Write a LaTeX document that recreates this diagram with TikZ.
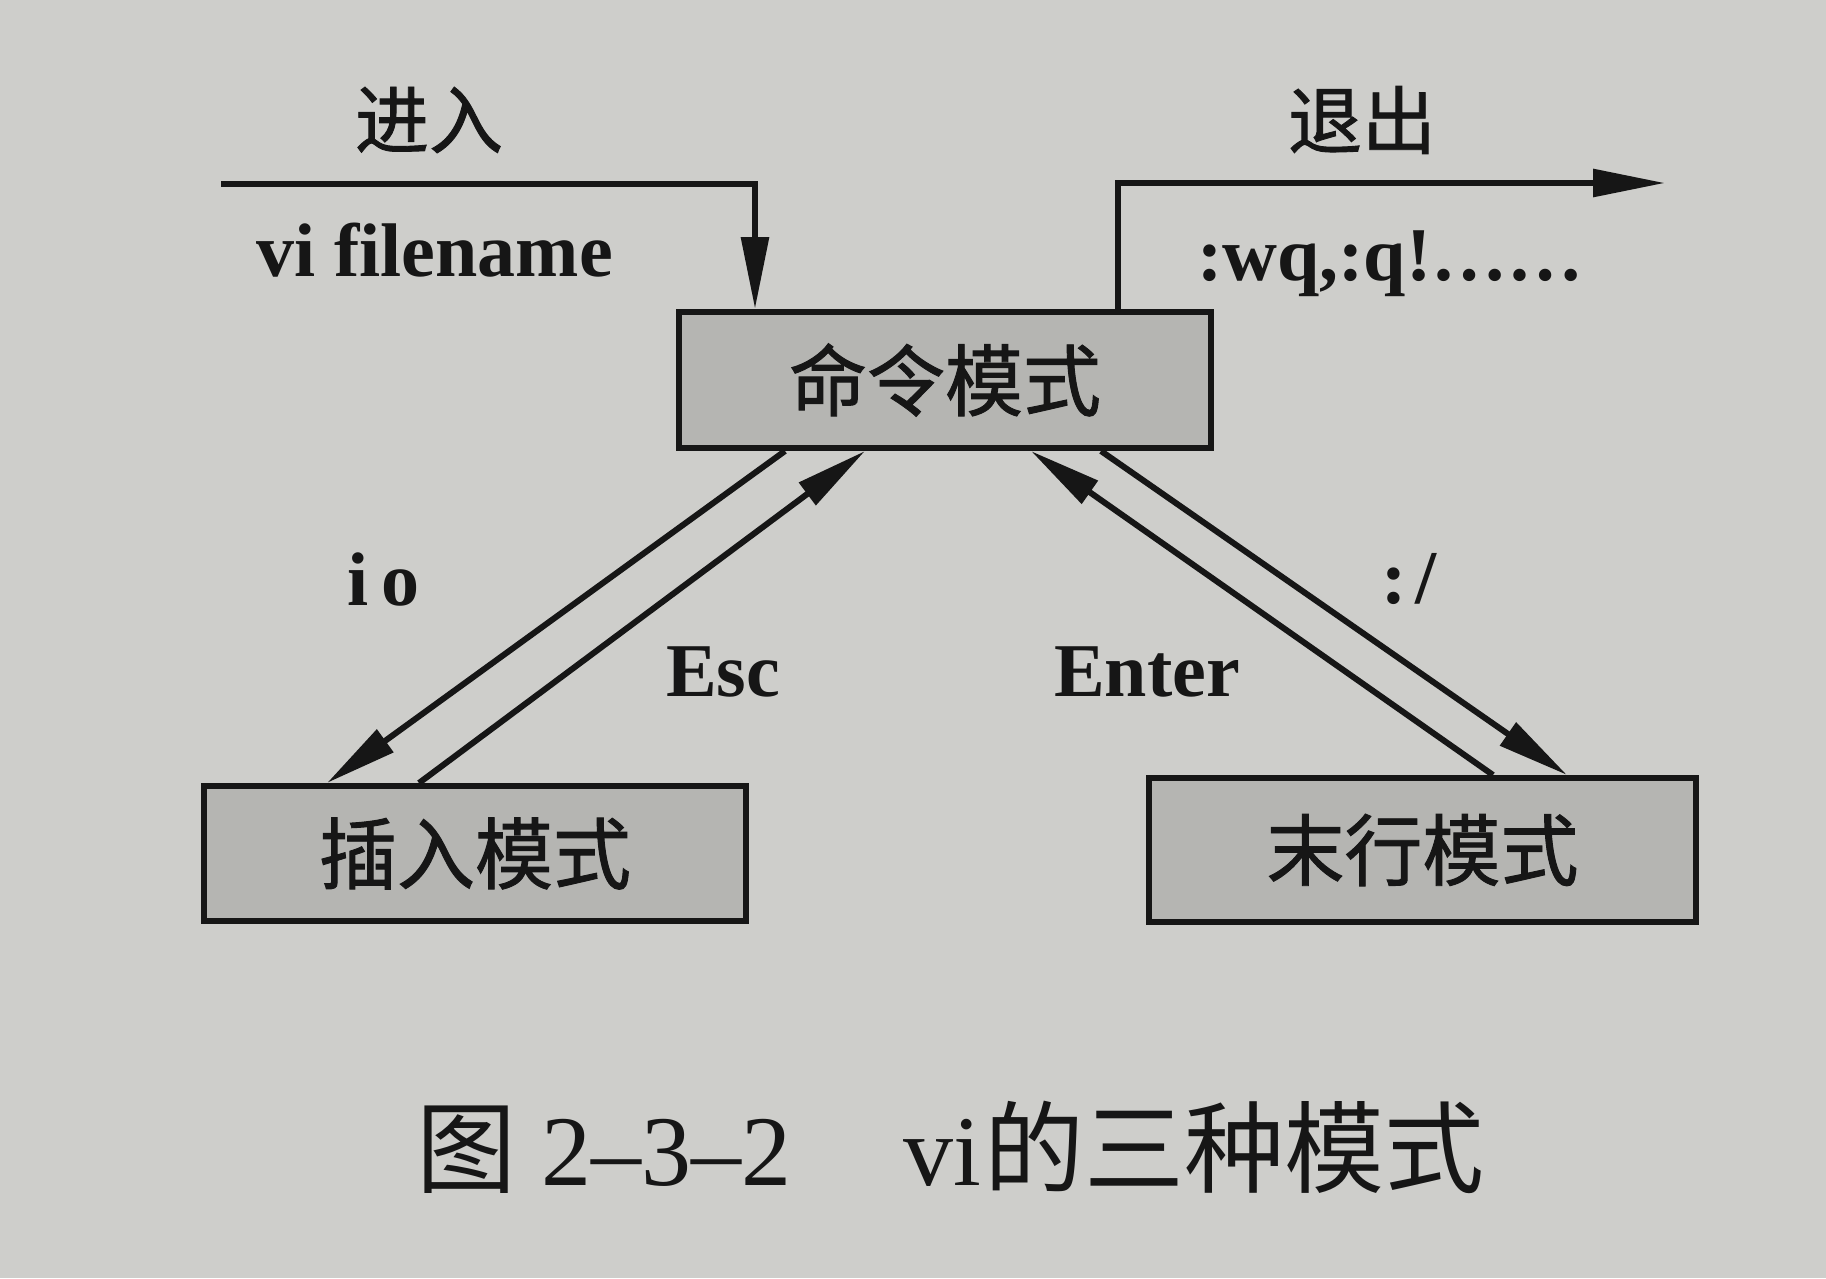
\documentclass[tikz,border=0pt]{standalone}
\usepackage{fontspec}
\setmainfont{Liberation Serif}
\newfontfamily\cjk{Noto Sans CJK SC}
\newfontfamily\cjkb{Noto Sans CJK SC}[FakeBold=1.2]
\usetikzlibrary{arrows.meta,calc}
\definecolor{paper}{RGB}{206,206,203}
\definecolor{boxfill}{RGB}{181,181,178}
\definecolor{ink}{RGB}{22,22,22}
\begin{document}
\begin{tikzpicture}[x=1pt,y=-1pt,
  modebox/.style={draw=ink, line width=6pt, fill=boxfill, inner sep=0pt,
    text=ink, font=\fontsize{78}{80}\selectfont\cjkb},
  conn/.style={draw=ink, line width=6pt, -{Triangle[length=72pt,width=27pt]}},
  cjklbl/.style={inner sep=0pt, text=ink, font=\fontsize{74}{78}\selectfont\cjkb},
  keylbl/.style={inner sep=0pt, text=ink, anchor=base west, font=\fontsize{76}{80}\selectfont\bfseries},
  caplbl/.style={inner sep=0pt, text=ink, anchor=west, font=\fontsize{100}{104}\selectfont}
]
\fill[paper] (0,0) rectangle (1826,1278);
\useasboundingbox (0,0) rectangle (1826,1278);

% mode boxes
\node[modebox, minimum width=532pt, minimum height=136pt] (cmd) at (945,380) {命令模式};
\node[modebox, minimum width=542pt, minimum height=135pt] (ins) at (475,853.5) {插入模式};
\node[modebox, minimum width=547pt, minimum height=144pt] (last) at (1422.5,850) {末行模式};

% free ends
\coordinate (inStart) at (221,184);
\coordinate (outEnd) at (1665,183);

% enter and exit
\draw[conn] (inStart) -| ($(cmd.north west)+(79,0)$);
\draw[conn] ($(cmd.north west)+(442,0)$) |- (outEnd);

% command <-> insert
\draw[conn] ($(cmd.south west)+(109,0)$) -- ($(ins.north west)+(126,0)$);
\draw[conn] ($(ins.north west)+(218,0)$) -- ($(cmd.south west)+(189,0)$);

% command <-> last line
\draw[conn] ($(last.north west)+(347,0)$) -- ($(cmd.south west)+(355,0)$);
\draw[conn] ($(cmd.south west)+(425,0)$) -- ($(last.north west)+(421,0)$);

% labels
\node[cjklbl] (lblIn) at (429,120) {进入};
\node[cjklbl] (lblOut) at (1362,120) {退出};
\node[keylbl] (lblVi) at (256,276) {vi filename};
\node[keylbl] (lblWq) at (1197,280) {:wq,:q!……};
\node[keylbl] (lblIo) at (347,605) {i\hspace{0.18em}o};
\node[keylbl] (lblEsc) at (666,696) {Esc};
\node[keylbl] (lblEnter) at (1054,696) {Enter};
\node[keylbl] (lblColon) at (1381,603) {:\hspace{0.12em}/};

% caption
\node[caplbl] (cap) at (416,1147) {{\cjk 图}\hspace{25pt}2–3–2\hspace{112pt}vi\hspace{4pt}{\cjk 的三种模式}};
\end{tikzpicture}
\end{document}
